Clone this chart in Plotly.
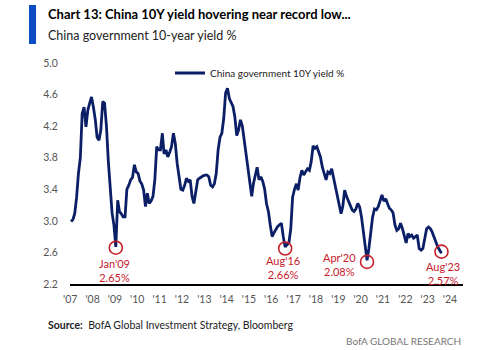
import plotly.graph_objects as go

# ---- data (monthly) ----
years = list(range(2007, 2024))
yield_by_year = {
    2007: [2.99, 3.02, 3.09, 3.30, 3.60, 3.80, 4.36, 4.44, 4.19, 4.40, 4.49, 4.57],
    2008: [4.44, 4.28, 4.06, 4.02, 4.15, 4.51, 4.49, 4.20, 3.75, 3.45, 3.10, 2.95],
    2009: [2.67, 3.26, 3.12, 3.09, 3.05, 3.05, 3.40, 3.45, 3.52, 3.55, 3.71, 3.62],
    2010: [3.60, 3.50, 3.47, 3.39, 3.18, 3.35, 3.22, 3.25, 3.31, 3.52, 3.94, 3.90],
    2011: [3.90, 4.11, 3.85, 3.90, 3.81, 3.87, 3.94, 4.11, 3.98, 3.73, 3.55, 3.40],
    2012: [3.39, 3.45, 3.54, 3.50, 3.52, 3.31, 3.22, 3.35, 3.52, 3.54, 3.56, 3.57],
    2013: [3.58, 3.58, 3.56, 3.45, 3.43, 3.47, 3.60, 3.90, 4.06, 4.11, 4.30, 4.62],
    2014: [4.68, 4.55, 4.50, 4.45, 4.32, 4.08, 4.15, 4.28, 4.20, 4.02, 3.85, 3.64],
    2015: [3.50, 3.31, 3.47, 3.60, 3.68, 3.52, 3.56, 3.50, 3.40, 3.22, 3.12, 2.95],
    2016: [2.80, 2.85, 2.90, 2.93, 2.95, 2.97, 2.80, 2.67, 2.70, 2.72, 2.90, 3.30],
    2017: [3.40, 3.47, 3.39, 3.55, 3.64, 3.58, 3.62, 3.66, 3.64, 3.75, 3.95, 3.92],
    2018: [3.94, 3.87, 3.81, 3.68, 3.60, 3.52, 3.62, 3.60, 3.66, 3.55, 3.43, 3.31],
    2019: [3.20, 3.09, 3.18, 3.39, 3.31, 3.25, 3.18, 3.14, 3.12, 3.15, 3.22, 3.18],
    2020: [3.05, 2.85, 2.70, 2.50, 2.65, 2.90, 3.05, 3.15, 3.14, 3.18, 3.26, 3.33],
    2021: [3.25, 3.28, 3.22, 3.16, 3.14, 3.10, 2.95, 2.88, 2.90, 2.97, 2.90, 2.82],
    2022: [2.72, 2.84, 2.80, 2.82, 2.78, 2.80, 2.82, 2.65, 2.63, 2.65, 2.80, 2.90],
    2023: [2.92, 2.90, 2.86, 2.80, 2.72, 2.67, 2.63, 2.59],
}

dates = []
values = []
for y in years:
    for m, v in enumerate(yield_by_year[y]):
        dates.append(f"{y}-{m + 1:02d}-15")
        values.append(v)

# troughs highlighted
trough_dates = ["2009-01-15", "2016-08-15", "2020-04-15", "2023-08-15"]
trough_values = [2.66, 2.65, 2.48, 2.61]
trough_labels = ["Jan'09<br>2.65%", "Aug'16<br>2.66%", "Apr'20<br>2.08%", "Aug'23<br>2.57%"]
label_dates = ["2008-12-20", "2016-07-08", "2019-01-15", "2023-09-12"]
label_values = [2.365, 2.405, 2.453, 2.327]

tick_years = list(range(2007, 2025))
tick_vals = [f"{y}-01-01" for y in tick_years]
tick_text = [f"'{str(y)[2:]}" for y in tick_years]
y_ticks = [2.2, 2.6, 3.0, 3.4, 3.8, 4.2, 4.6, 5.0]

NAVY = "#0B1F66"
RED = "#C8202A"
FONT = "Lato, sans-serif"

PW, PH, PL, PB = 393.0, 221.0, 70.0, 284.0  # plot geometry in pixels


def px(x):
    return (x - PL) / PW


def py(y):
    return (PB - y) / PH


fig = go.Figure()
fig.add_trace(go.Scatter(
    x=dates, y=values, mode="lines",
    line=dict(color=NAVY, width=2.8),
    name="China government 10Y yield %",
))
fig.add_trace(go.Scatter(
    x=trough_dates, y=trough_values, mode="markers",
    marker=dict(symbol="circle-open", size=13, color=RED, line=dict(color=RED, width=1.6)),
    showlegend=False, hoverinfo="skip",
))

for d, v, t in zip(label_dates, label_values, trough_labels):
    fig.add_annotation(x=d, y=v, xref="x", yref="y", text=t, showarrow=False,
                       font=dict(family=FONT, size=11, color=RED), align="center")

# titles / footer
fig.add_shape(type="rect", xref="paper", yref="paper",
              x0=px(29), x1=px(36), y0=py(5), y1=py(44),
              fillcolor="#0B4CC4", line=dict(width=0))
fig.add_annotation(xref="paper", yref="paper", x=px(46), y=py(14),
                   text="<b>Chart 13: China 10Y yield hovering near record low...</b>",
                   showarrow=False, xanchor="left", yanchor="middle",
                   font=dict(family=FONT, size=13, color="#000000"))
fig.add_annotation(xref="paper", yref="paper", x=px(46), y=py(35),
                   text="China government 10-year yield %",
                   showarrow=False, xanchor="left", yanchor="middle",
                   font=dict(family=FONT, size=12.5, color="#222222"))
fig.add_annotation(xref="paper", yref="paper", x=px(46), y=py(325),
                   text="<b>Source:</b>  BofA Global Investment Strategy, Bloomberg",
                   showarrow=False, xanchor="left", yanchor="middle",
                   font=dict(family=FONT, size=10.5, color="#222222"))
fig.add_annotation(xref="paper", yref="paper", x=1.0, y=py(341),
                   text="BofA GLOBAL RESEARCH",
                   showarrow=False, xanchor="right", yanchor="middle",
                   font=dict(family=FONT, size=10, color="#777777"))

fig.update_layout(
    width=500, height=350,
    margin=dict(l=70, r=37, t=63, b=66),
    paper_bgcolor="white", plot_bgcolor="white",
    font=dict(family=FONT, size=10, color="#555555"),
    showlegend=True,
    legend=dict(x=px(170), y=py(73), xanchor="left", yanchor="middle",
                bgcolor="rgba(0,0,0,0)", font=dict(family=FONT, size=10, color="#222222")),
    xaxis=dict(type="date", range=["2006-12-28", "2024-08-01"],
               tickvals=tick_vals, ticktext=tick_text,
               showgrid=False, zeroline=False,
               showline=True, linecolor="#000000", linewidth=2,
               ticks="outside", ticklen=4, tickcolor="rgba(0,0,0,0)",
               tickfont=dict(family=FONT, size=10.5, color="#555555")),
    yaxis=dict(range=[2.2, 5.0], tickvals=y_ticks,
               ticktext=[f"{v:.1f}" for v in y_ticks],
               showgrid=False, zeroline=False, showline=False,
               ticks="outside", ticklen=9, tickcolor="rgba(0,0,0,0)",
               tickfont=dict(family=FONT, size=10.5, color="#555555")),
)

fig.write_html("out.html")
